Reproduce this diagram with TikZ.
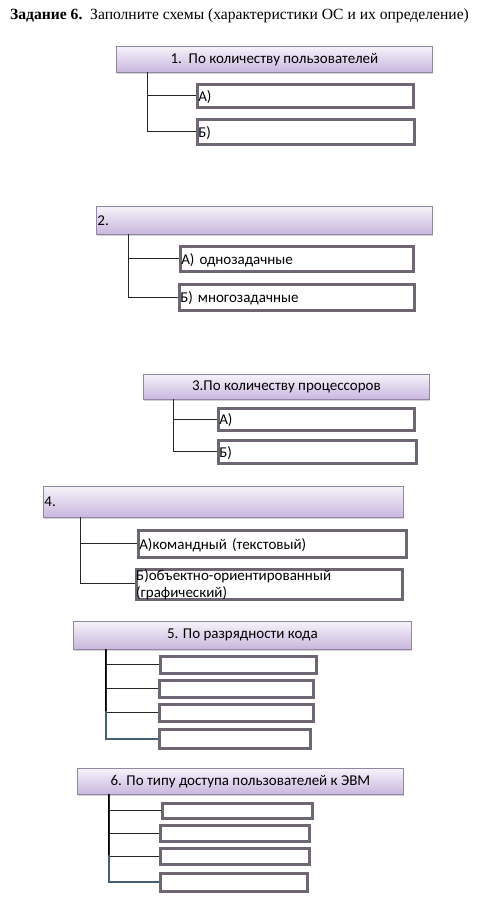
\documentclass[tikz,border=0pt]{standalone}
\usepackage{fontspec}
\setmainfont{Liberation Serif}
\newfontfamily\calfont{Carlito}
\usetikzlibrary{shadows}
\definecolor{hdtop}{HTML}{F6F2FA}
\definecolor{hdbot}{HTML}{C9B6DE}
\definecolor{hdline}{HTML}{9386A3}
\definecolor{bxline}{HTML}{6F6673}
\definecolor{bluel}{HTML}{45606E}
\tikzset{
  hdr/.style={draw=hdline, line width=0.8pt, top color=hdtop, bottom color=hdbot,
    drop shadow={opacity=0.35, shadow xshift=1pt, shadow yshift=-1.5pt, fill=gray},
    anchor=north west, inner sep=1pt, font=\calfont\fontsize{15}{17}\selectfont},
  bx/.style={draw=bxline, line width=2.6pt, fill=white, anchor=north west,
    inner xsep=1pt, inner ysep=0pt, text depth=0pt, align=left,
    font=\calfont\fontsize{15}{17}\selectfont},
  ln/.style={draw=black!85, line width=0.9pt},
  lnb/.style={draw=black, line width=1.8pt},
  lnc/.style={draw=bluel, line width=2pt},
}
\begin{document}
\begin{tikzpicture}[x=1pt,y=-1pt]
\useasboundingbox (0,0) rectangle (485,898);
% title
\node[anchor=base west, inner sep=0pt, font=\fontsize{15.6}{18}\selectfont] (title) at (10,19)
  {\textbf{Задание 6.}\ \ Заполните схемы (характеристики ОС и их определение)};

% block 1
\node[hdr, minimum width=316, minimum height=26] (h1) at (116,46) {1.\ \ По количеству пользователей};
\node[bx, minimum width=216, minimum height=23, text width=214] (b1a) at (196,83) {А)};
\node[bx, minimum width=217, minimum height=25, text width=215] (b1b) at (196,118) {Б)};
\coordinate (t1) at (147,72);
\draw[ln] (t1) |- (b1a.west);
\draw[ln] (t1) |- (b1b.west);

% block 2
\node[hdr, minimum width=336, minimum height=28, text width=334, align=left] (h2) at (96,206) {2.};
\node[bx, minimum width=233, minimum height=25, text width=231] (b2a) at (179,245) {А) однозадачные};
\node[bx, minimum width=235, minimum height=26, text width=233] (b2b) at (178,283) {Б) многозадачные};
\coordinate (t2) at (128,234);
\draw[ln] (t2) |- (b2a.west);
\draw[ln] (t2) |- (b2b.west);

% block 3
\node[hdr, minimum width=286, minimum height=25] (h3) at (143,374) {3.По количеству процессоров};
\node[bx, minimum width=196, minimum height=22, text width=194] (b3a) at (217,407) {А)};
\node[bx, minimum width=198, minimum height=23, text width=196] (b3b) at (217,439) {Б)};
\coordinate (t3) at (173,399);
\draw[ln] (t3) |- (b3a.west);
\draw[ln] (t3) |- (b3b.west);

% block 4
\node[hdr, minimum width=360, minimum height=31, text width=358, align=left] (h4) at (43,486) {4.};
\node[bx, minimum width=268, minimum height=27, text width=266] (b4a) at (137,529) {А)командный (текстовый)};
\node[bx, minimum width=266, minimum height=30, text width=264] (b4b) at (135,568) {};
\node[anchor=north west, inner sep=0pt, align=left, font=\calfont\fontsize{15}{17}\selectfont] (b4bt) at (136,569)
  {Б)объектно-ориентированный\\(графический)};
\coordinate (t4) at (80,517);
\draw[ln] (t4) |- (b4a.west);
\draw[ln] (t4) |- ([yshift=1pt]b4b.west);

% block 5
\node[hdr, minimum width=338, minimum height=28] (h5) at (73,621) {5. По разрядности кода};
\node[bx, minimum width=156, minimum height=17] (b5a) at (159,655) {};
\node[bx, minimum width=154, minimum height=17] (b5b) at (158,679) {};
\node[bx, minimum width=154, minimum height=17] (b5c) at (158,703) {};
\node[bx, minimum width=151, minimum height=19] (b5d) at (158,728) {};
\coordinate (t5) at (106,649);
\coordinate (m5) at (106,711);
\draw[lnb] (t5) -- (m5);
\draw[ln] (t5) |- (b5a.west);
\draw[ln] (t5) |- (b5b.west);
\draw[ln] (t5) |- (b5c.west);
\draw[lnc] (m5) |- (b5d.west);

% block 6
\node[hdr, minimum width=326, minimum height=26] (h6) at (77,768) {6. По типу доступа пользователей к ЭВМ};
\node[bx, minimum width=150, minimum height=15] (b6a) at (161,802) {};
\node[bx, minimum width=149, minimum height=16] (b6b) at (159,824) {};
\node[bx, minimum width=149, minimum height=16] (b6c) at (159,847) {};
\node[bx, minimum width=147, minimum height=18] (b6d) at (159,872) {};
\coordinate (t6) at (109,794);
\coordinate (m6) at (109,855);
\draw[lnb] (t6) -- (m6);
\draw[ln] (t6) |- (b6a.west);
\draw[ln] (t6) |- (b6b.west);
\draw[ln] (t6) |- (b6c.west);
\draw[lnc] (m6) |- (b6d.west);
\end{tikzpicture}
\end{document}
